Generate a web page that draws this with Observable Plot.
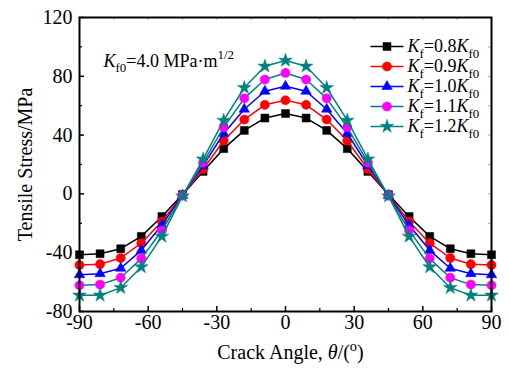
<!DOCTYPE html>
<html>
<head>
<meta charset="utf-8">
<script src="https://cdn.jsdelivr.net/npm/d3@7"></script>
<script src="https://cdn.jsdelivr.net/npm/@observablehq/plot@0.6"></script>
<style>
  html, body { margin: 0; padding: 0; background: #fff; font-family: "Liberation Serif", "Times New Roman", serif; }
  #wrap { position: relative; width: 510px; height: 368px; }
  #legend { position: absolute; left: 365px; top: 20px; }
  svg, svg text, svg tspan { font-family: "Liberation Serif", "Times New Roman", serif !important; }
</style>
</head>
<body>
<div id="wrap"><div id="main"></div><div id="legend"></div></div>
<script>
// ---- data ----
const angles = [-90, -81, -72, -63, -54, -45, -36, -27, -18, -9, 0, 9, 18, 27, 36, 45, 54, 63, 72, 81, 90];
const kf08 = [-41.4, -40.7, -37.3, -28.9, -15.4, -0.5, 15.3, 30.8, 43.2, 51.6, 54.7, 51.6, 43.2, 30.8, 15.3, -0.5, -15.4, -28.9, -37.3, -40.7, -41.4];
const kf09 = [-48.4, -47.8, -43.6, -33.5, -18.8, -0.8, 16.8, 36.2, 50.6, 60.6, 63.7, 60.6, 50.6, 36.2, 16.8, -0.8, -18.8, -33.5, -43.6, -47.8, -48.4];
const kf10 = [-55.0, -54.3, -50.6, -38.4, -21.2, -1.0, 19.2, 41.1, 57.6, 69.8, 73.2, 69.8, 57.6, 41.1, 19.2, -1.0, -21.2, -38.4, -50.6, -54.3, -55.0];
const kf11 = [-62.2, -61.7, -57.0, -44.0, -24.9, -1.2, 21.2, 45.3, 65.0, 77.8, 82.3, 77.8, 65.0, 45.3, 21.2, -1.2, -24.9, -44.0, -57.0, -61.7, -62.2];
const kf12 = [-69.0, -69.0, -63.8, -49.7, -28.9, -1.5, 23.6, 50.0, 72.2, 86.8, 90.8, 86.8, 72.2, 50.0, 23.6, -1.5, -28.9, -49.7, -63.8, -69.0, -69.0];
const seriesValues = [kf08, kf09, kf10, kf11, kf12];
const seriesFactors = ["0.8", "0.9", "1.0", "1.1", "1.2"];
const xMajor = [-90, -60, -30, 0, 30, 60, 90];
const xMinor = [-75, -45, -15, 15, 45, 75];
const yMajor = [-80, -40, 0, 40, 80, 120];
const yMinor = [-60, -20, 20, 60, 100];

// ---- styles ----
const lineColors = ["#000000", "#ff0000", "#0000ff", "#008080", "#008080"];
const markColors = ["#000000", "#ff0000", "#0000ff", "#ff00ff", "#008080"];
const symbols = ["square", "circle", "triangle", "circle", "star"];
const radii = [4.5, 4.6, 3.9, 4.6, 4.3];
const FONT = "Liberation Serif, Times New Roman, serif";

const W = 510, H = 368, mL = 79, mR = 19, mT = 17, mB = 57;
const innerW = W - mL - mR, innerH = H - mT - mB;

const rows = seriesValues.map(vals => angles.map((a, j) => ({angle: a, stress: vals[j]})));

const marks = [];
rows.forEach((r, i) => {
  marks.push(Plot.line(r, {x: "angle", y: "stress", stroke: lineColors[i], strokeWidth: 1.5}));
  marks.push(Plot.dot(r, {x: "angle", y: "stress", symbol: symbols[i], r: radii[i], fill: markColors[i], stroke: markColors[i], strokeWidth: 0.5}));
});

const main = Plot.plot({
  width: W, height: H,
  marginLeft: mL, marginRight: mR, marginTop: mT, marginBottom: mB,
  style: {fontFamily: FONT, fontSize: "20px", background: "white", color: "black"},
  x: {domain: [-90, 90]},
  y: {domain: [-80, 120]},
  marks: [
    Plot.tickX(xMajor, {x: d => d, insetTop: innerH - 5, strokeWidth: 1.5}),
    Plot.tickX(xMinor, {x: d => d, insetTop: innerH - 3, strokeWidth: 1.2}),
    Plot.tickY(yMajor, {y: d => d, insetRight: innerW - 5, strokeWidth: 1.5}),
    Plot.tickY(yMinor, {y: d => d, insetRight: innerW - 3, strokeWidth: 1.2}),
    Plot.tickX(xMajor.concat(xMinor), {x: d => d, insetBottom: innerH - 3, stroke: "#aaa"}),
    Plot.tickY(yMajor.concat(yMinor), {y: d => d, insetLeft: innerW - 3, stroke: "#aaa"}),
    Plot.axisX(xMajor, {tickSize: 0, tickPadding: 3, label: null, tickFormat: d => String(d), fontSize: 20, fontFamily: FONT}),
    Plot.axisY(yMajor, {tickSize: 0, tickPadding: 7, label: null, tickFormat: d => String(d), fontSize: 20, fontFamily: FONT}),
    ...marks,
    Plot.frame({stroke: "black", strokeWidth: 2}),
    Plot.text(["Tensile Stress/MPa"], {frameAnchor: "left", rotate: -90, dx: -54, textAnchor: "middle", fontSize: 20, fontFamily: FONT, text: d => d}),
    Plot.text(["XTITLE"], {frameAnchor: "bottom", dy: 41.5, dx: 5, fontSize: 20, fontFamily: FONT, textAnchor: "start", lineAnchor: "middle", text: d => d}),
    Plot.text(["ANNOT"], {frameAnchor: "top-left", dx: 24, dy: 43.7, fontSize: 18, fontFamily: FONT, textAnchor: "start", lineAnchor: "middle", text: d => d})
  ]
});
document.getElementById("main").appendChild(main);

// ---- legend ----
const legendRows = seriesFactors.map((f, i) => ({key: "LEG" + i, f, i}));
const legendMarks = [];
legendRows.forEach((d, i) => {
  legendMarks.push(Plot.link([d], {x1: 0, x2: 1, y1: "key", y2: "key", stroke: lineColors[i], strokeWidth: 1.5}));
  legendMarks.push(Plot.dot([d], {x: 0.5, y: "key", symbol: symbols[i], r: radii[i], fill: markColors[i], stroke: markColors[i], strokeWidth: 0.5}));
});
const legend = Plot.plot({
  width: 135, height: 135,
  margin: 0,
  style: {fontFamily: FONT, fontSize: "18px", background: "transparent", overflow: "visible"},
  x: {domain: [0, 1], range: [5, 38], axis: null},
  y: {type: "point", domain: legendRows.map(d => d.key), range: [14, 118.3], axis: null},
  marks: [
    ...legendMarks,
    Plot.text(legendRows, {x: 1, y: "key", dx: 4, text: "key", textAnchor: "start", lineAnchor: "middle", fontSize: 18, fontFamily: FONT})
  ]
});
document.getElementById("legend").appendChild(legend);

// ---- rich text post-processing ----
function setRich(el, parts, fs, center) {
  el.textContent = "";
  el.setAttribute("xml:space", "preserve");
  el.style.whiteSpace = "pre";
  el.setAttribute("text-anchor", "start");
  let shift = 0;
  const spans = [];
  for (const [str, kind] of parts) {
    const flags = kind.split(" ");
    const t = document.createElementNS("http://www.w3.org/2000/svg", "tspan");
    let target = 0, size = fs;
    if (flags.includes("sub")) { target = 0.3 * fs; size = 0.72 * fs; }
    if (flags.includes("sup")) { target = -0.42 * fs; size = 0.72 * fs; }
    t.setAttribute("dy", (target - shift).toFixed(2));
    shift = target;
    t.setAttribute("font-size", size);
    if (flags.includes("i")) t.setAttribute("font-style", "italic");
    t.textContent = str;
    el.appendChild(t);
    spans.push(t);
  }
  if (center) {
    const bb = el.getBBox();
    spans[0].setAttribute("dx", (-(bb.x + bb.width / 2)).toFixed(2));
  }
}
const richMap = {
  "XTITLE": [[["Crack Angle, ", ""], ["θ", "i"], ["/(", ""], ["o", "sup"], [")", ""]], 20, true],
  "ANNOT": [[["K", "i"], ["f0", "sub"], ["=4.0 MPa·m", ""], ["1/2", "sup"]], 18, false]
};
legendRows.forEach(d => {
  richMap[d.key] = [[["K", "i"], ["f", "sub"], ["=" + d.f, ""], ["K", "i"], ["f0", "sub"]], 18, false];
});
document.querySelectorAll("svg text").forEach(el => {
  const k = el.textContent;
  if (richMap[k]) setRich(el, richMap[k][0], richMap[k][1], richMap[k][2]);
});
</script>
</body>
</html>
